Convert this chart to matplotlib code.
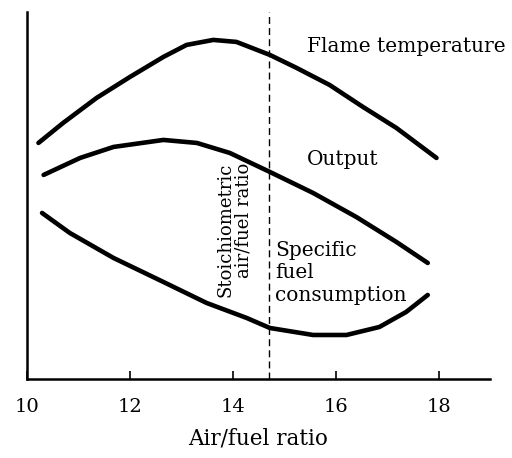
import matplotlib.pyplot as plt
import numpy as np

# curves (y in arbitrary units)
flame_x = [10.22, 10.70, 11.35, 12.0, 12.65, 13.10, 13.62, 14.07, 14.72, 15.24,
           15.88, 16.53, 17.18, 17.96]
flame_y = [236, 256, 281, 302, 322, 334, 339, 337, 324, 311, 294, 272, 251, 221]

output_x = [10.32, 11.03, 11.68, 12.65, 13.30, 13.94, 14.72, 15.56, 16.40, 17.18, 17.79]
output_y = [204, 221, 232, 239, 236, 226, 207, 186, 162, 137, 116]

sfc_x = [10.29, 10.83, 11.68, 12.65, 13.49, 14.27, 14.72, 15.56, 16.21, 16.85,
         17.37, 17.79]
sfc_y = [166, 146, 121, 97, 76, 61, 51, 44, 44, 52, 67, 84]

stoich = 14.7
xticks = [10, 12, 14, 16, 18]

plt.rcParams["font.family"] = "DejaVu Serif"

fig = plt.figure(figsize=(5.12, 4.58), dpi=100)
ax = fig.add_axes([0.053, 0.1725, 0.904, 0.8015])

for xs, ys in [(flame_x, flame_y), (output_x, output_y), (sfc_x, sfc_y)]:
    ax.plot(xs, ys, color="black", lw=3.3, solid_capstyle="round",
            solid_joinstyle="round")

ax.axvline(stoich, color="black", lw=1, ls=(0, (5, 3)))

ax.text(15.44, 332, "Flame temperature", fontsize=14.5, va="center", ha="left")
ax.text(15.44, 219, "Output", fontsize=14.5, va="center", ha="left")
ax.text(14.82, 106, "Specific\nfuel\nconsumption", fontsize=14.5, va="center",
        ha="left", linespacing=1.25)
ax.text(14.03, 216, "Stoichiometric\nair/fuel ratio", fontsize=13, rotation=90,
        va="top", ha="center", multialignment="right", linespacing=1.0)

ax.set_xlim(10, 19)
ax.set_ylim(0, 367)
ax.set_xticks(xticks)
ax.set_yticks([])
ax.tick_params(axis="x", direction="in", length=6, width=1.2, pad=14, labelsize=14)
ax.spines["top"].set_visible(False)
ax.spines["right"].set_visible(False)
ax.spines["left"].set_linewidth(1.8)
ax.spines["bottom"].set_linewidth(1.8)
ax.set_xlabel("Air/fuel ratio", fontsize=15.5, labelpad=8)

fig.savefig("out.png", dpi=100)
